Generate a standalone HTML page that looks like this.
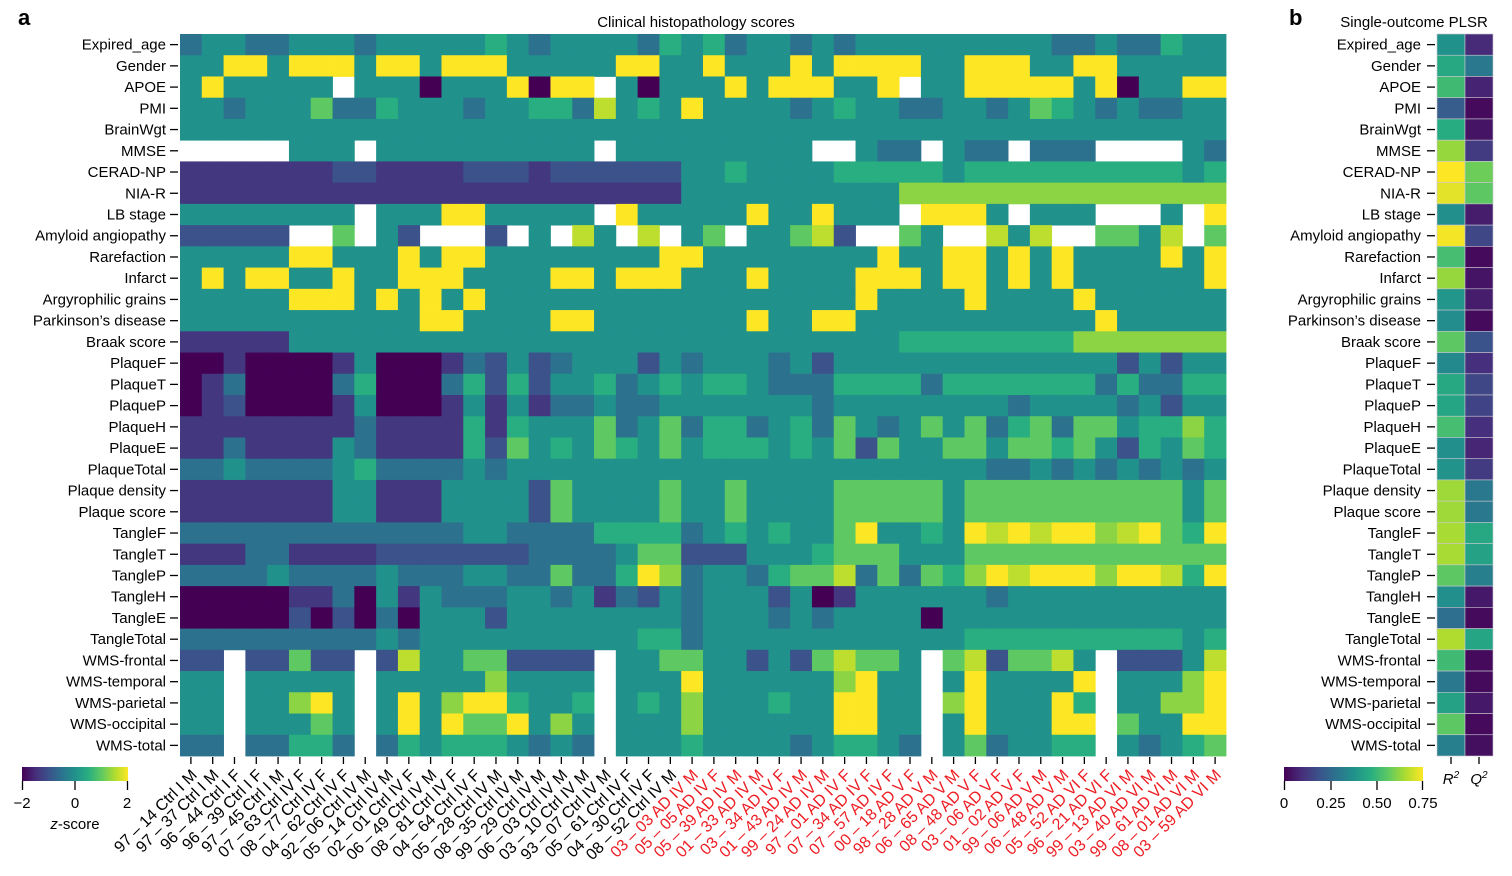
<!DOCTYPE html>
<html><head><meta charset="utf-8">
<style>
html,body{margin:0;padding:0;background:#fff;}
svg{display:block;font-family:"Liberation Sans",Arial,sans-serif;}
</style></head>
<body>
<svg id="chart" width="1512" height="876" viewBox="0 0 1512 876" xmlns="http://www.w3.org/2000/svg">
<defs>
<linearGradient id="vir" x1="0" x2="1" y1="0" y2="0">
<stop offset="0" stop-color="#440154"/><stop offset="0.125" stop-color="#472d7b"/><stop offset="0.25" stop-color="#3b528b"/><stop offset="0.375" stop-color="#2c728e"/><stop offset="0.5" stop-color="#21918c"/><stop offset="0.625" stop-color="#28ae80"/><stop offset="0.75" stop-color="#5ec962"/><stop offset="0.875" stop-color="#addc30"/><stop offset="1" stop-color="#fde725"/>
</linearGradient>
</defs>
<text x="18" y="25" font-size="22" font-weight="bold">a</text>
<text x="1289" y="25" font-size="22" font-weight="bold">b</text>
<text x="696" y="27" font-size="15" text-anchor="middle">Clinical histopathology scores</text>
<text x="1414" y="27" font-size="15" text-anchor="middle">Single-outcome PLSR</text>
<g id="heatA"></g>
<g id="heatB"></g>
<g id="axes"></g>
<g>
<rect x="22" y="767" width="106" height="14" fill="url(#vir)"/>
<line x1="22.5" y1="781" x2="22.5" y2="790" stroke="#000" stroke-width="1.3"/>
<line x1="75" y1="781" x2="75" y2="790" stroke="#000" stroke-width="1.3"/>
<line x1="127.5" y1="781" x2="127.5" y2="790" stroke="#000" stroke-width="1.3"/>
<text x="22" y="808" font-size="15" text-anchor="middle">−2</text>
<text x="75" y="808" font-size="15" text-anchor="middle">0</text>
<text x="127" y="808" font-size="15" text-anchor="middle">2</text>
<text x="75" y="829" font-size="15" text-anchor="middle"><tspan font-style="italic">z</tspan>-score</text>
</g>
<g>
<rect x="1284" y="767" width="139" height="14" fill="url(#vir)"/>
<line x1="1284.5" y1="781" x2="1284.5" y2="790" stroke="#000" stroke-width="1.3"/>
<line x1="1331" y1="781" x2="1331" y2="790" stroke="#000" stroke-width="1.3"/>
<line x1="1377" y1="781" x2="1377" y2="790" stroke="#000" stroke-width="1.3"/>
<line x1="1422.5" y1="781" x2="1422.5" y2="790" stroke="#000" stroke-width="1.3"/>
<text x="1284" y="808" font-size="15" text-anchor="middle">0</text>
<text x="1331" y="808" font-size="15" text-anchor="middle">0.25</text>
<text x="1377" y="808" font-size="15" text-anchor="middle">0.50</text>
<text x="1423" y="808" font-size="15" text-anchor="middle">0.75</text>
</g>
</svg>
<script>
const rowLabels = ["Expired_age","Gender","APOE","PMI","BrainWgt","MMSE","CERAD-NP","NIA-R","LB stage","Amyloid angiopathy","Rarefaction","Infarct","Argyrophilic grains","Parkinson’s disease","Braak score","PlaqueF","PlaqueT","PlaqueP","PlaqueH","PlaqueE","PlaqueTotal","Plaque density","Plaque score","TangleF","TangleT","TangleP","TangleH","TangleE","TangleTotal","WMS-frontal","WMS-temporal","WMS-parietal","WMS-occipital","WMS-total"];
const ctrlLabels = ["97 – 14 Ctrl I M","97 – 37 Ctrl I M","96 – 44 Ctrl I F","96 – 39 Ctrl I F","97 – 45 Ctrl I M","07 – 63 Ctrl IV F","08 – 77 Ctrl IV F","04 – 62 Ctrl IV F","92 – 06 Ctrl IV M","05 – 14 Ctrl IV M","02 – 01 Ctrl IV F","06 – 49 Ctrl IV M","08 – 81 Ctrl IV F","04 – 64 Ctrl IV F","05 – 28 Ctrl IV M","08 – 35 Ctrl IV M","99 – 29 Ctrl IV M","06 – 03 Ctrl IV M","03 – 10 Ctrl IV M","93 – 07 Ctrl IV M","05 – 61 Ctrl IV F","04 – 30 Ctrl IV F","08 – 52 Ctrl IV M"];
const adLabels = ["03 – 03 AD IV M","05 – 05 AD IV F","05 – 39 AD IV M","01 – 33 AD IV M","03 – 34 AD IV F","01 – 43 AD IV M","99 – 24 AD IV M","97 – 01 AD IV F","07 – 34 AD IV F","07 – 57 AD IV F","00 – 18 AD V F","98 – 28 AD V M","06 – 65 AD V M","08 – 48 AD V F","03 – 06 AD V F","01 – 02 AD V F","99 – 06 AD V M","06 – 48 AD V M","05 – 52 AD VI F","96 – 21 AD VI F","99 – 13 AD VI M","03 – 40 AD VI M","99 – 61 AD VI M","08 – 01 AD VI M","03 – 59 AD VI M"];
// level code -> z-score ; 'w' = missing
const levelZ = {"0":-2,"1":-1.35,"2":-1,"3":-0.5,"4":0,"5":0.5,"6":1,"7":1.3,"8":1.6,"9":2};
const zRows = [
"3443344434444454"+"3444435453443434"+"4444444433433544",
"4499499949949994"+"4444994494449499"+"9944999449944444",
"4944444w44404449"+"099w404449499944"+"9w44999994904499",
"4434446335444344"+"5538454944443454"+"4334434654343344",
"4444444444444444"+"4444444444444444"+"4444444444444444",
"wwwww444w4444444"+"444w444444444ww4"+"33w433w333wwww43",
"1111111221111222"+"1222222445444455"+"5554555555555545",
"1111111111111111"+"1111111444444444"+"4777777777777777",
"44444444w4449944"+"444w944444944944"+"4w9994w444www4w9",
"22222ww6w42www2w"+"4w84w8w46w44682w"+"w64ww848ww6648w6",
"4444499444949944"+"4444449944444444"+"9449949494444949",
"4949944944999444"+"4994999444944449"+"9949949494444449",
"4444499949494944"+"4444444444444449"+"4444944449444444",
"4444444444499444"+"4994444444944994"+"4444444444944444",
"1111144444444444"+"4444444444444444"+"4555555557777777",
"0010000140001324"+"2344424344434244"+"4444444444424244",
"0130000350003525"+"2445345455433355"+"5535555555353355",
"0120000140001414"+"1334334444444344"+"4444443444434244",
"1111111131111515"+"4446346355345364"+"3464635636645575",
"1131111431111526"+"4546546455545462"+"6446646656425465",
"3343333453333434"+"4444444444444444"+"4444433434343434",
"1111111441114444"+"2644446446444466"+"6664666666666646",
"1111111441114444"+"2644446446444466"+"6664666666666646",
"3333333333333443"+"3335555345454469"+"4454989899789659",
"1113311112222222"+"3333466222444566"+"6444666666666666",
"3333433334333443"+"3633597344356683"+"6365798999799859",
"0000011304143334"+"4341324344424014"+"4444434444444444",
"0000020203044424"+"4444444344434344"+"4404444444444444",
"3333333334344444"+"4444455344444444"+"4444555555555545",
"22w22622w2844662"+"222w446644242686"+"64w6826684w22248",
"44w44444w4444474"+"444w444944444479"+"44w4944449w44479",
"44w44794w4947995"+"445w454744454499"+"44w7944495w44779",
"44w44464w4949669"+"474w444744444499"+"44w4944499w64499",
"33w33553w3545554"+"343w444544443455"+"43w4634455w43456"
];
const zScores = zRows.map(s => s.split("").map(c => c === "w" ? null : levelZ[c]));
const r2Values = [0.375,0.45,0.51,0.22,0.46,0.63,0.75,0.72,0.37,0.74,0.52,0.63,0.39,0.36,0.56,0.35,0.45,0.44,0.52,0.37,0.38,0.64,0.64,0.65,0.65,0.56,0.37,0.27,0.66,0.51,0.30,0.43,0.56,0.32];
const q2Values = [0.09,0.30,0.075,0.02,0.04,0.13,0.58,0.56,0.06,0.16,0.02,0.04,0.06,0.02,0.19,0.10,0.16,0.15,0.10,0.08,0.13,0.30,0.30,0.45,0.43,0.32,0.05,0.02,0.44,0.02,0.02,0.05,0.02,0.03];
const plsrCols = ["R","Q"];

const NS = "http://www.w3.org/2000/svg";
const colLabels = ctrlLabels.concat(adLabels);
const nCols = colLabels.length, nRows = rowLabels.length;
const X0 = 180, X1 = 1226, Y0 = 34, Y1 = 756;
const cw = (X1 - X0) / nCols, rh = (Y1 - Y0) / nRows;
const xA = i => X0 + i * cw;
const yR = r => Y0 + r * rh;
const BX0 = 1437, bw = 28;
const xB = j => BX0 + j * bw;

const vstops = ["#440154","#472d7b","#3b528b","#2c728e","#21918c","#28ae80","#5ec962","#addc30","#fde725"];
function hex(h){return [parseInt(h.slice(1,3),16),parseInt(h.slice(3,5),16),parseInt(h.slice(5,7),16)];}
function viridis(t){
  t = Math.max(0, Math.min(1, t));
  const p = t * (vstops.length - 1), i = Math.min(Math.floor(p), vstops.length - 2), f = p - i;
  const a = hex(vstops[i]), b = hex(vstops[i+1]);
  return "rgb(" + a.map((v,k) => Math.round(v + (b[k]-v)*f)).join(",") + ")";
}
const zColor = z => viridis((z + 2) / 4);
const pColor = v => viridis(v / 0.75);

function mk(tag, attrs, parent){
  const el = document.createElementNS(NS, tag);
  for (const k in attrs) el.setAttribute(k, attrs[k]);
  parent.appendChild(el);
  return el;
}

const gA = document.getElementById("heatA");
zScores.forEach((row, r) => {
  row.forEach((z, c) => {
    if (z === null) return;
    const el = mk("rect", {x: xA(c).toFixed(2), y: yR(r).toFixed(2), width: (cw + 0.4).toFixed(2), height: (rh + 0.4).toFixed(2), fill: zColor(z)}, gA);
    
    
  });
});

const gB = document.getElementById("heatB");
[r2Values, q2Values].forEach((vals, j) => {
  vals.forEach((v, r) => {
    const el = mk("rect", {x: xB(j), y: yR(r).toFixed(2), width: bw, height: rh.toFixed(2), fill: pColor(v), stroke: "#c8c8d0", "stroke-width": 0.6}, gB);
    
    
  });
});

const gAx = document.getElementById("axes");
rowLabels.forEach((lab, r) => {
  const cy = yR(r) + rh / 2;
  mk("line", {x1: 170, x2: 178, y1: cy, y2: cy, stroke: "#000", "stroke-width": 1.3}, gAx);
  const t = mk("text", {x: 166, y: cy + 5, "font-size": 15, "text-anchor": "end"}, gAx);
  t.textContent = lab;
  
  
  mk("line", {x1: 1427, x2: 1435, y1: cy, y2: cy, stroke: "#000", "stroke-width": 1.3}, gAx);
  const t2 = mk("text", {x: 1421, y: cy + 5, "font-size": 15, "text-anchor": "end"}, gAx);
  t2.textContent = lab;
  
  
});
colLabels.forEach((lab, c) => {
  const cx = xA(c) + cw / 2;
  mk("line", {x1: cx, x2: cx, y1: 757, y2: 764, stroke: "#000", "stroke-width": 1.3}, gAx);
  const t = mk("text", {x: 0, y: 0, "font-size": 16, "text-anchor": "end", transform: "translate(" + (cx + 7).toFixed(1) + ",776) rotate(-45)", fill: c < ctrlLabels.length ? "#000" : "#ee1d23"}, gAx);
  t.textContent = lab;
  
  
});
plsrCols.forEach((lab, j) => {
  const cx = xB(j) + bw / 2;
  mk("line", {x1: cx, x2: cx, y1: 757, y2: 764, stroke: "#000", "stroke-width": 1.3}, gAx);
  const t = mk("text", {x: cx, y: 784, "font-size": 15, "text-anchor": "middle", "font-style": "italic"}, gAx);
  t.textContent = lab;
  const s = mk("tspan", {dy: -6, "font-size": 10}, t);
  s.textContent = "2";
  
  
});
</script>
</body></html>
